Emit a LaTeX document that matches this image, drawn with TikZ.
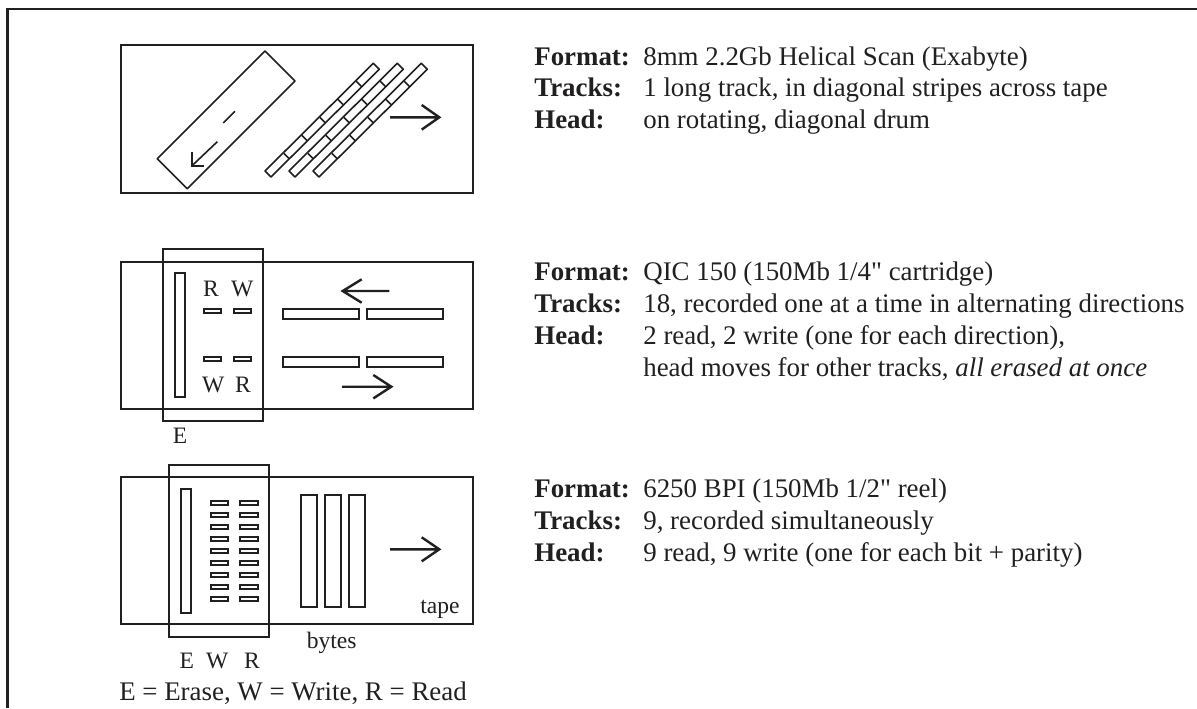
\documentclass[tikz,border=0pt]{standalone}
\usepackage{fontspec}
\setmainfont{Liberation Serif}[Ligatures=TeXOff]
\usepackage{xcolor}
\definecolor{inkblack}{rgb}{0.13,0.12,0.12}
\tikzset{
    frameline/.style={draw=inkblack,line width=2.4*0.02cm},
    tapeline/.style={draw=inkblack,line width=2.0*0.02cm},
    thinline/.style={draw=inkblack,line width=1.6*0.02cm,line join=round},
    smallhead/.style={draw=inkblack,line width=2.0*0.02cm},
    arrowline/.style={draw=inkblack,line width=2.4*0.02cm,line join=miter},
    lbl/.style={text=inkblack,font=\fontsize{13.4pt}{15pt}\selectfont,inner sep=0pt},
    info/.style={lbl,anchor=base west,font=\fontsize{15.3pt}{18pt}\selectfont},
    infokey/.style={info,font=\fontsize{15.3pt}{18pt}\selectfont\bfseries},
}
\newcommand{\inforow}[3]{%
    \node[infokey] (key#1) at (534,#1) {#2};
    \node[info] (val#1) at (643,#1) {#3};
}
\begin{document}
\begin{tikzpicture}[x=0.02cm,y=-0.02cm]
    \useasboundingbox (0,0) rectangle (1197,708);

    % Outer frame, open at the bottom and right.
    \path[frameline] (7.5,708) -- (7.5,9) -- (1197,9);

    % First tape: helical scan.
    \path[tapeline] (120.7,44.7) rectangle (472.7,192.7);
    \path[thinline] (265,51) -- ++(30,30) -- ++(-107.7,107.7) -- ++(-30,-30) -- cycle;
    \path[thinline] (235,111.3) -- (223.3,123);
    \path[thinline] (217.3,141.7) -- (191.7,166);
    \path[arrowline] (191.7,151.7) -- ++(0,14.3) -- ++(12.3,0);

    % Diagonal stripes across the tape.
    \foreach \sx in {0,24,48}{
        \path[thinline] (373.3+\sx,63.3) -- ++(6,6) -- ++(-108.3,107.7) -- ++(-6,-6) -- cycle;
        \foreach \dx in {0,18.3,36.3,54.3,72.3}
            \path[thinline] (356+\sx-\dx,81+\dx) -- ++(5.3,5.3);
    }
    \path[arrowline] (390,117.3) -- ++(49.3,0) ++(-17.6,-12.3) -- ++(17.6,12.3) -- ++(-17.6,12.3);

    % Second tape: cartridge.
    \path[tapeline] (120.7,261.7) rectangle (472.7,408.7);
    \path[tapeline] (163.3,249.3) rectangle (262.7,421);
    \path[tapeline] (174.7,272.7) rectangle (185,396.7);
    \path[smallhead] (204.3,309) rectangle (221,313.3);
    \path[smallhead] (234.3,309) rectangle (251.3,313.3);
    \path[smallhead] (204.3,357) rectangle (221,361.3);
    \path[smallhead] (234.3,357) rectangle (251.3,361.3);
    \node[lbl] (labelrt) at (211,289) {R};
    \node[lbl] (labelwt) at (242.3,289) {W};
    \node[lbl] (labelwb) at (213.3,385) {W};
    \node[lbl] (labelrb) at (243,385) {R};
    \foreach \ty in {309.3,357.3}{
        \path[tapeline] (282.7,\ty) rectangle ++(76.3,9.4);
        \path[tapeline] (366.7,\ty) rectangle ++(76,9.4);
    }
    \path[arrowline] (389.3,291) -- ++(-46.6,0) ++(19,-11.7) -- ++(-19,11.7) -- ++(19,11.7);
    \path[arrowline] (342,386.7) -- ++(49.3,0) ++(-18,-11.7) -- ++(18,11.7) -- ++(-18,11.7);
    \node[lbl] (labele) at (180,436) {E};

    % Third tape: reel.
    \path[tapeline] (120.7,476.7) rectangle (472.7,624.3);
    \path[tapeline] (169,464.7) rectangle (268.7,636.7);
    \path[tapeline] (181,489) rectangle (191,613);
    \foreach \hy in {503,515,...,599}{
        \path[smallhead] (210.7,\hy-2) rectangle (227.7,\hy+2);
        \path[smallhead] (240,\hy-2) rectangle (258,\hy+2);
    }
    \foreach \bx in {300.7,325,348.7}
        \path[tapeline] (\bx,494.7) rectangle ++(16.3,112);
    \path[arrowline] (390,549.3) -- ++(49.3,0) ++(-17.6,-12) -- ++(17.6,12) -- ++(-17.6,12);
    \node[lbl] (labeltape) at (440,609.3) {tape};
    \node[lbl] (labelbytes) at (331.7,643) {bytes};
    \node[lbl] (labeleb) at (186.7,660.7) {E};
    \node[lbl] (labelwc) at (217.3,660.7) {W};
    \node[lbl] (labelrc) at (252,660.7) {R};
    \node[lbl,font=\fontsize{15.3pt}{18pt}\selectfont] (legend) at (293,693) {E = Erase, W = Write, R = Read};

    % Descriptions.
    \inforow{65}{Format:}{8mm 2.2Gb Helical Scan (Exabyte)}
    \inforow{96.7}{Tracks:}{1 long track, in diagonal stripes across tape}
    \inforow{128}{Head:}{on rotating, diagonal drum}
    \inforow{280.7}{Format:}{QIC 150 (150Mb 1/4" cartridge)}
    \inforow{312.7}{Tracks:}{18, recorded one at a time in alternating directions}
    \inforow{344.7}{Head:}{2 read, 2 write (one for each direction),}
    \node[info] (valmore) at (643,376.7) {head moves for other tracks, \textit{all erased at once}};
    \inforow{497}{Format:}{6250 BPI (150Mb 1/2" reel)}
    \inforow{529}{Tracks:}{9, recorded simultaneously}
    \inforow{561}{Head:}{9 read, 9 write (one for each bit + parity)}

\end{tikzpicture}
\end{document}
